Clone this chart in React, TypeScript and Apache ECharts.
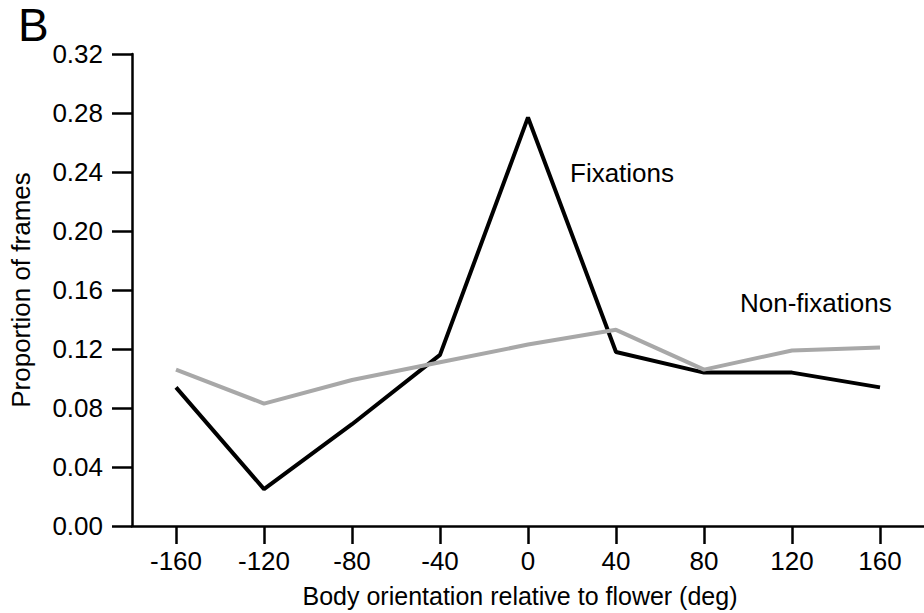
import React, { useEffect, useRef } from "react";
import * as echarts from "echarts";

const categories = ["-160", "-120", "-80", "-40", "0", "40", "80", "120", "160"];
const fixations = [0.094, 0.025, 0.069, 0.116, 0.277, 0.118, 0.104, 0.104, 0.094];
const nonFixations = [0.106, 0.083, 0.099, 0.111, 0.123, 0.133, 0.106, 0.119, 0.121];
const yTicks = { min: 0, max: 0.32, interval: 0.04 };

const FONT = "'Liberation Sans', Arial, Helvetica, sans-serif";

export default function App() {
  const ref = useRef<HTMLDivElement>(null);
  useEffect(() => {
    document.body.style.margin = "0";
    if (!ref.current) return;
    const chart = echarts.init(ref.current, undefined, { renderer: "svg" });
    chart.setOption({
      animation: false,
      backgroundColor: "#ffffff",
      textStyle: { fontFamily: FONT },
      grid: { left: 132, right: 0, top: 54, bottom: 87, containLabel: false },
      xAxis: {
        type: "category",
        data: categories,
        boundaryGap: true,
        name: "Body orientation relative to flower (deg)",
        nameLocation: "middle",
        nameGap: 57,
        nameTextStyle: { fontSize: 25, color: "#000", fontFamily: FONT, padding: [0, 16, 0, 0] },
        axisLine: { show: true, lineStyle: { color: "#000", width: 2.5 } },
        axisTick: { show: true, alignWithLabel: true, inside: false, length: 18, lineStyle: { color: "#000", width: 2.5 } },
        axisLabel: { fontSize: 26, color: "#000", margin: 22, fontFamily: FONT },
        splitLine: { show: false },
      },
      yAxis: {
        type: "value",
        min: yTicks.min,
        max: yTicks.max,
        interval: yTicks.interval,
        name: "Proportion of frames",
        nameLocation: "middle",
        nameGap: 98,
        nameTextStyle: { fontSize: 26, color: "#000", fontFamily: FONT },
        axisLine: { show: true, lineStyle: { color: "#000", width: 2.5 } },
        axisTick: { show: true, inside: false, length: 20, lineStyle: { color: "#000", width: 2.5 } },
        axisLabel: { fontSize: 26, color: "#000", margin: 29, fontFamily: FONT, formatter: (v: number) => v.toFixed(2) },
        splitLine: { show: false },
      },
      series: [
        {
          name: "Fixations",
          type: "line",
          data: fixations,
          symbol: "none",
          lineStyle: { color: "#000", width: 4 },
          z: 2,
        },
        {
          name: "Non-fixations",
          type: "line",
          data: nonFixations,
          symbol: "none",
          lineStyle: { color: "#a8a8a8", width: 4 },
          z: 3,
        },
      ],
      graphic: [
        { type: "text", x: 18, y: 2, style: { text: "B", font: `46px ${FONT}`, fill: "#000" } },
        { type: "text", x: 570, y: 160, style: { text: "Fixations", font: `26px ${FONT}`, fill: "#000" } },
        { type: "text", x: 740, y: 290, style: { text: "Non-fixations", font: `26px ${FONT}`, fill: "#000" } },
      ],
    });
    return () => chart.dispose();
  }, []);
  return <div ref={ref} style={{ width: 924, height: 613, position: "absolute", left: 0, top: 0 }} />;
}
